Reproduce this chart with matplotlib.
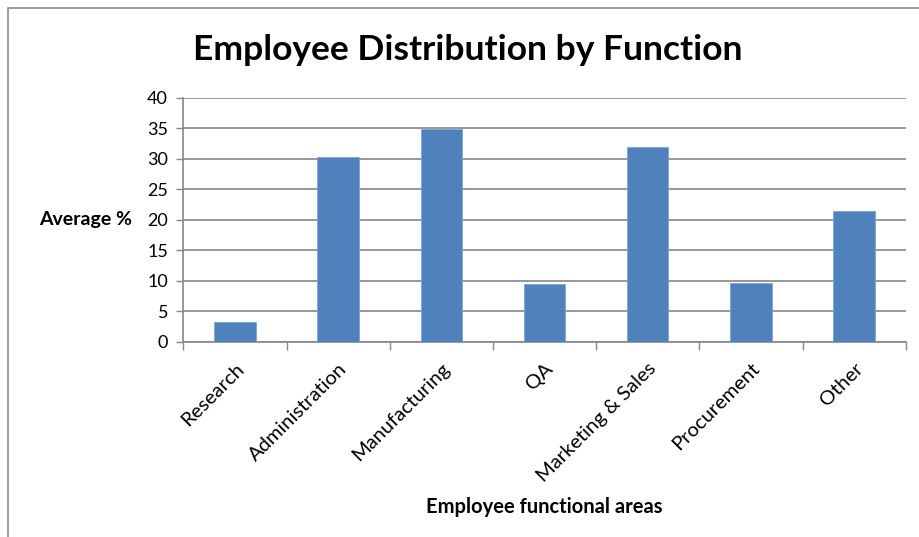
import matplotlib.pyplot as plt
import numpy as np
from matplotlib.patches import Rectangle

categories = ['Research', 'Administration', 'Manufacturing', 'QA',
              'Marketing & Sales', 'Procurement', 'Other']
values = [3.2, 30.3, 34.8, 9.5, 31.9, 9.6, 21.5]
yticks = [0, 5, 10, 15, 20, 25, 30, 35, 40]

plt.rcParams['font.family'] = ['Lato', 'DejaVu Sans']

fig = plt.figure(figsize=(9.2, 5.37), dpi=100)
ax = fig.add_axes([183.3 / 920, 1 - 341.7 / 537, (905.7 - 183.3) / 920, (341.7 - 97.7) / 537])

# chart border (cropped on right/bottom)
fig.patches.append(Rectangle((8 / 920, -0.1), 1.2, 1 - 8 / 537 + 0.1,
                             transform=fig.transFigure, fill=False,
                             edgecolor='#8c8c8c', linewidth=1.2))

x = np.arange(len(categories))
ax.bar(x, values, width=0.4, color='#4F81BD', edgecolor='#7fa3d3', linewidth=0.6, zorder=3)

ax.set_xlim(-0.5, len(categories) - 0.5)
ax.set_ylim(0, 40)
ax.set_yticks(yticks)
ax.tick_params(axis='y', labelsize=13, length=5, color='#868686', width=1, pad=6)
ax.yaxis.grid(True, color='#868686', linewidth=1.2, zorder=0)

# category ticks between bars
ax.set_xticks(np.arange(-0.5, len(categories)), minor=False)
ax.set_xticklabels([])
ax.set_xticks(x, minor=True)
ax.set_xticklabels(categories, minor=True, rotation=45, ha='right',
                   rotation_mode='anchor', fontsize=14.5)
ax.tick_params(axis='x', which='major', length=6, color='#868686', width=1)
ax.tick_params(axis='x', which='minor', length=0, pad=13)

for s in ['top', 'right']:
    ax.spines[s].set_visible(False)
for s in ['left', 'bottom']:
    ax.spines[s].set_color('#868686')
    ax.spines[s].set_linewidth(1.2)

fig.text(468 / 920, 1 - 50 / 537, 'Employee Distribution by Function',
         ha='center', va='center', fontsize=25.5, fontweight='bold')
fig.text(86 / 920, 1 - 220 / 537, 'Average %', ha='center', va='center',
         fontsize=14, fontweight='bold')
fig.text(544 / 920, 1 - 507 / 537, 'Employee functional areas', ha='center',
         va='center', fontsize=14.5, fontweight='bold')

fig.savefig('out.png', dpi=100)
